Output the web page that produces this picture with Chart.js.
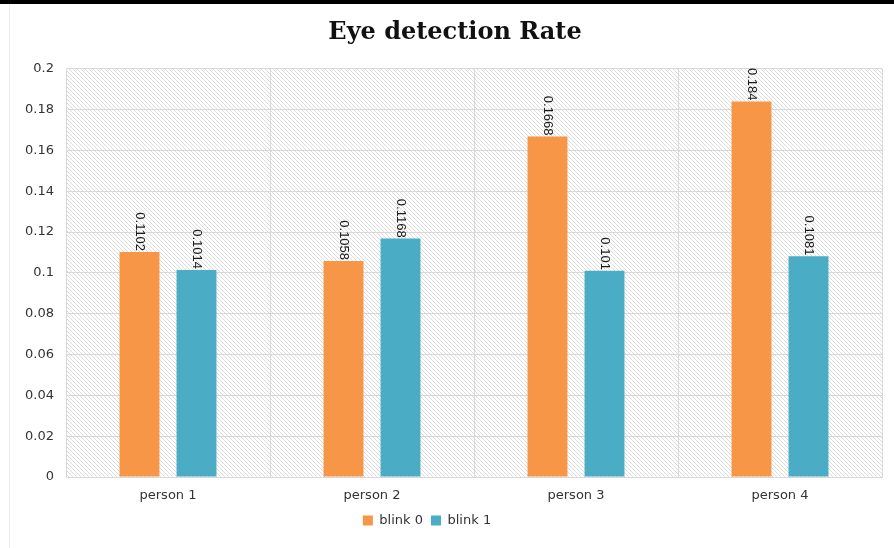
<!DOCTYPE html>
<html lang="en">
<head>
<meta charset="UTF-8" />
<title>Eye detection Rate</title>
<style>
  body{margin:0;background:#fff;}
  .wrap{position:relative;width:894px;height:548px;}
  .wrap:before{content:"";position:absolute;left:0;top:0;width:100%;height:4px;background:#000;}
  .wrap:after{content:"";position:absolute;left:9px;top:4px;bottom:0;width:1px;background:#efefef;}
</style>
<script src="https://cdn.jsdelivr.net/npm/chart.js@4.4.0/dist/chart.umd.min.js"></script>
</head>
<body>
<div class="wrap"><canvas id="eyeChart" width="894" height="548"></canvas></div>

<script>
// ===== data =====
const persons = ['person 1','person 2','person 3','person 4'];
const blink0  = [0.1102, 0.1058, 0.1668, 0.184];
const blink1  = [0.1014, 0.1168, 0.101, 0.1081];

const orange = '#f79646';
const teal   = '#4bacc6';
const gridCol = '#d9d9d9';
const textCol = '#333';

// hatched plot background (downward diagonal)
const tile = document.createElement('canvas');
tile.width = tile.height = 4;
(function(){
  const g = tile.getContext('2d');
  g.strokeStyle = '#dcdcdc';
  g.lineWidth = 1;
  g.beginPath();
  g.moveTo(-1,-1); g.lineTo(5,5);
  g.moveTo(-1,3);  g.lineTo(1,5);
  g.moveTo(3,-1);  g.lineTo(5,1);
  g.stroke();
})();

const plotBg = {
  id:'plotBg',
  beforeDraw(chart){
    const {ctx, chartArea:a} = chart;
    ctx.save();
    ctx.fillStyle = ctx.createPattern(tile,'repeat');
    ctx.fillRect(a.left, a.top, a.right-a.left, a.bottom-a.top);
    ctx.restore();
  }
};

// rotated value labels on top of each bar
const valueLabels = {
  id:'valueLabels',
  afterDatasetsDraw(chart){
    const ctx = chart.ctx;
    ctx.save();
    ctx.font = '13px "Liberation Sans", Arial, sans-serif';
    ctx.fillStyle = '#1a1a1a';
    ctx.textAlign = 'right';
    ctx.textBaseline = 'middle';
    chart.data.datasets.forEach((ds, di) => {
      chart.getDatasetMeta(di).data.forEach((bar, i) => {
        ctx.save();
        ctx.translate(bar.x, bar.y - 1);
        ctx.rotate(Math.PI/2);
        ctx.fillText(String(ds.data[i]), 0, 0);
        ctx.restore();
      });
    });
    ctx.restore();
  }
};

// title and legend sit a little off centre in the original
const nudge = {
  id:'nudge',
  afterLayout(chart){
    const mv = (box, dx) => { if (box) { box.left += dx; box.right += dx; } };
    mv(chart.titleBlock, 9);
    mv(chart.legend, -19);
  }
};

new Chart(document.getElementById('eyeChart'), {
  type:'bar',
  data:{
    labels: persons,
    datasets:[
      {label:'blink 0', data: blink0, backgroundColor: orange, borderWidth:0},
      {label:'blink 1', data: blink1, backgroundColor: teal, borderWidth:0}
    ]
  },
  options:{
    responsive:false,
    animation:false,
    devicePixelRatio:1,
    categoryPercentage:0.559,
    barPercentage:0.70,
    layout:{padding:{left:10, right:12, top:0, bottom:11}},
    plugins:{
      title:{
        display:true,
        text:'Eye detection Rate',
        color:'#111',
        font:{family:'"DejaVu Serif", serif', size:24, weight:'bold', lineHeight:1.2},
        padding:{top:18, bottom:22}
      },
      legend:{
        position:'bottom',
        labels:{
          boxWidth:10, boxHeight:10, padding:8,
          color:textCol,
          font:{family:'"DejaVu Sans", sans-serif', size:13}
        }
      },
      tooltip:{enabled:false}
    },
    scales:{
      x:{
        grid:{color:gridCol, drawTicks:false, offset:true},
        border:{color:gridCol},
        ticks:{color:textCol, padding:11, font:{family:'"DejaVu Sans", sans-serif', size:13}},
        afterFit(s){ s.height = 29; }
      },
      y:{
        min:0, max:0.2,
        grid:{color:gridCol, drawTicks:false},
        border:{color:gridCol},
        ticks:{
          stepSize:0.02, padding:12, color:textCol,
          font:{family:'"DejaVu Sans", sans-serif', size:13},
          callback:v => String(+v.toFixed(2))
        },
        afterFit(s){ s.width = 56; }
      }
    }
  },
  plugins:[plotBg, valueLabels, nudge]
});
</script>
</body>
</html>
